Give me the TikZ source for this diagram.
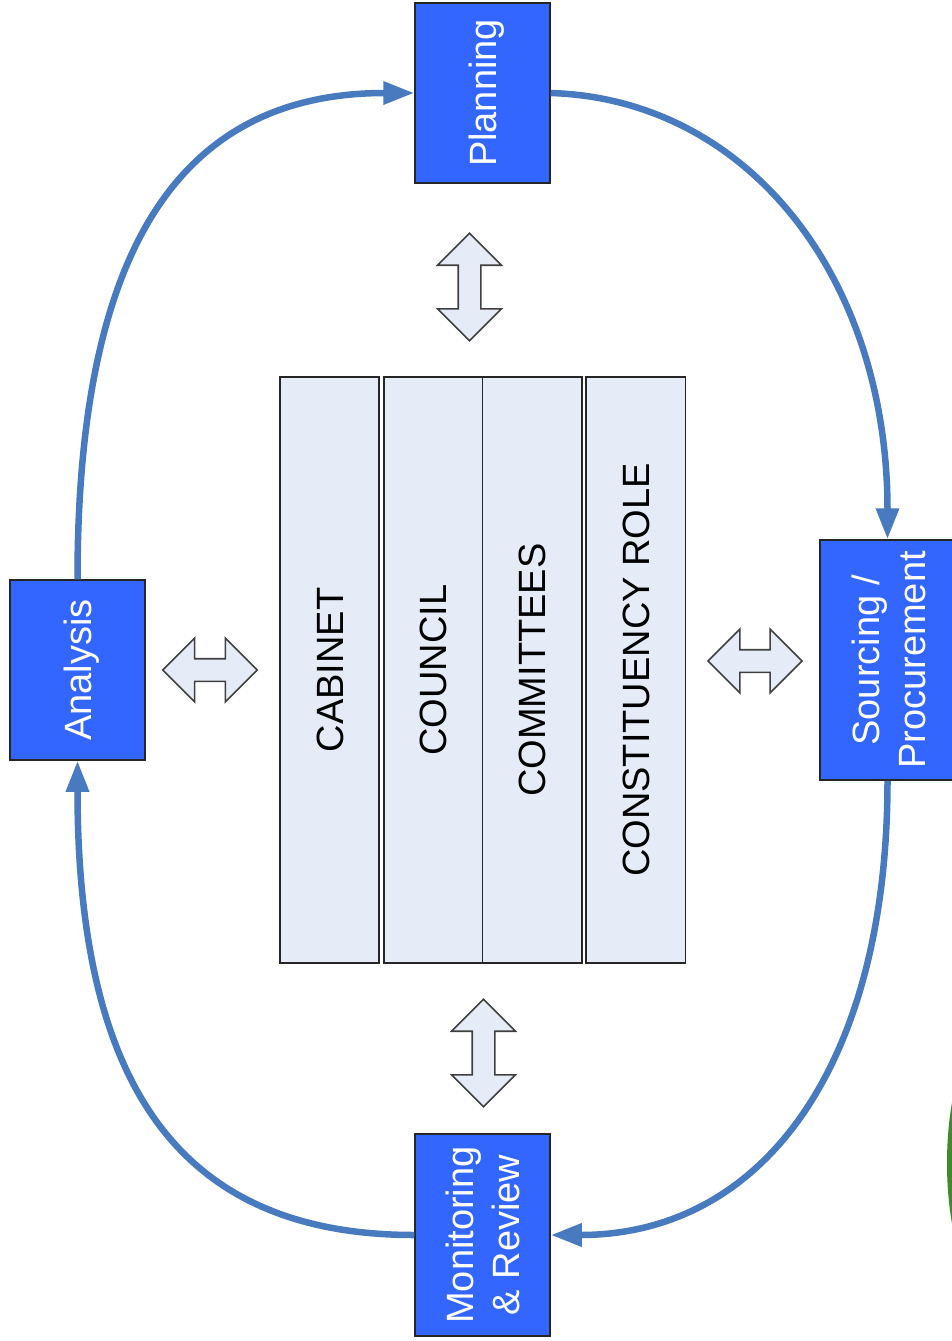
\documentclass[tikz,border=0pt]{standalone}
\usepackage{fontspec}
\setmainfont{Liberation Sans}
\usetikzlibrary{arrows.meta,shapes.arrows}
\definecolor{boxblue}{RGB}{51,102,255}
\definecolor{flowblue}{RGB}{72,122,192}
\definecolor{panelfill}{RGB}{230,236,247}
\definecolor{leafgreen}{RGB}{60,140,45}

\begin{document}
\begin{tikzpicture}[x=1pt,y=-1pt,
  stage/.style={rectangle, draw=black!85, line width=1.5pt, fill=boxblue,
    minimum width=135pt, minimum height=#1, inner sep=0pt},
  stagetext/.style={rotate=90, text=white, font=\fontsize{38}{46}\selectfont,
    align=center, inner sep=0pt},
  oneline/.style={text height=27.2pt, text depth=0pt},
  panel/.style={rectangle, draw=black!85, line width=1.8pt, fill=panelfill,
    minimum width=#1, minimum height=586pt, inner sep=0pt},
  paneltext/.style={rotate=90, font=\fontsize{38}{46}\selectfont,
    text height=27.2pt, text depth=0pt, inner sep=0pt},
  flow/.style={draw=flowblue, line width=6.5pt, -{Triangle[length=31pt,width=22pt]}},
  twoway/.style={shape=double arrow, double arrow tip angle=90,
    double arrow head extend=20.6pt, inner xsep=0pt, inner ysep=10.5pt,
    minimum height=#1, fill=panelfill, draw=black!75, line width=1.6pt},
]
% page
\fill[white] (0,0) rectangle (952,1341);
\useasboundingbox (0,0) rectangle (952,1341);

% edge of the green shape at the right border
\begin{scope}
  \clip (0,0) rectangle (952,1341);
  \fill[leafgreen] (1001,1163) ellipse [x radius=54, y radius=144];
\end{scope}

% central governance panels
\node[panel=99pt]   (cab) at (329.5,670)  {};
\node[panel=98.5pt] (cou) at (433.25,670) {};
\node[panel=99.5pt] (com) at (532.25,670) {};
\node[panel=99.5pt] (con) at (635.75,670) {};
\node[paneltext] at (cab) {CABINET};
\node[paneltext] at (cou) {COUNCIL};
\node[paneltext] at (com) {COMMITTEES};
\node[paneltext] at (con) {CONSTITUENCY ROLE};

% two-way links between the cycle and the panels
\node[twoway=107.4pt, rotate=90] (upper)   at (469.5,287)  {};
\node[twoway=107.4pt, rotate=90] (lower)   at (483.5,1053) {};
\node[twoway=94.6pt]             (leftdw)  at (210,670)    {};
\node[twoway=94pt]               (rightdw) at (755,661)    {};

% cycle stages
\node[stage=180pt] (plan) at (482.5,93)   {};
\node[stage=180pt] (ana)  at (77.5,670)   {};
\node[stage=240pt] (src)  at (887.5,660)  {};
\node[stage=202pt] (mon)  at (482.5,1235) {};
\node[stagetext, oneline] at (plan) {Planning};
\node[stagetext, oneline] at (ana)  {Analysis};
\node[stagetext] at ([xshift=1.5pt]src.center) {Sourcing /\\Procurement};
\node[stagetext] at (mon) {Monitoring\\\& Review};

% cycle connectors
\draw[flow] (ana.north) .. controls +(0,-334) and +(-232,0) .. (plan.west);
\draw[flow] (plan.east) .. controls +(197,6) and +(0,-262) .. (src.north);
\draw[flow] (src.south) .. controls +(0,285) and +(212,0) .. (mon.east);
\draw[flow] (mon.west) .. controls +(-233,0) and +(0,327) .. (ana.south);
\end{tikzpicture}
\end{document}
